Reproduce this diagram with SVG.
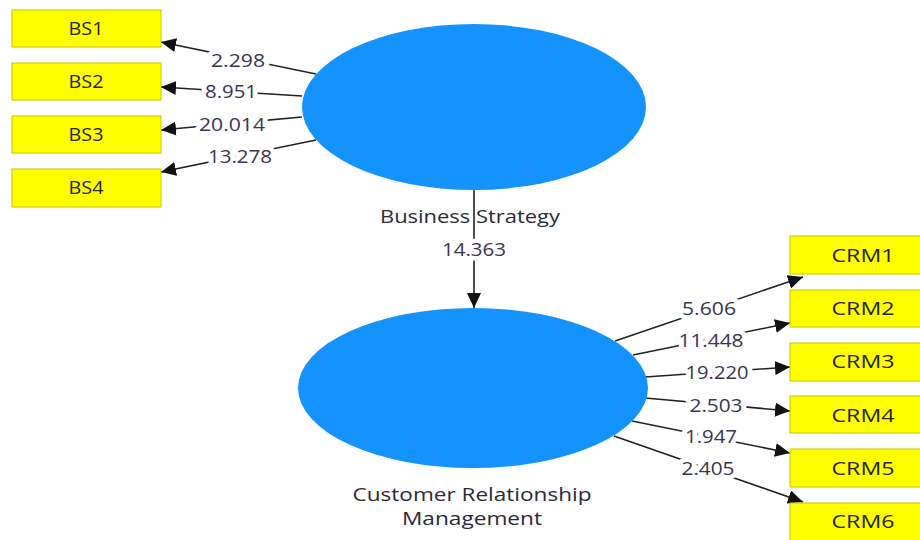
<svg xmlns="http://www.w3.org/2000/svg" width="920" height="540" viewBox="0 0 920 540">
<style>
.ind{fill:#ffff00;stroke:#c8c400;stroke-width:1}
.lv{fill:#1493fd}
.t{font-family:"Open Sans","Noto Sans",sans-serif;font-size:18.5px;fill:#262626;text-anchor:middle}
.n{font-family:"Open Sans","Noto Sans",sans-serif;font-size:18.5px;fill:#3a3550;text-anchor:middle;stroke:#fff;stroke-width:9px;paint-order:stroke;stroke-linejoin:round}
.lt{font-family:"Open Sans","Noto Sans",sans-serif;font-size:18px;fill:#2a2a3a;text-anchor:middle}
.c{stroke:#222;stroke-width:1.6;fill:none;marker-end:url(#ah)}
</style>
<defs>
<marker id="ah" markerUnits="userSpaceOnUse" markerWidth="16" markerHeight="14" refX="15" refY="7" orient="auto">
<path d="M0,0 L15,7 L0,14 Z" fill="#111"/>
</marker>
</defs>
<g id="connectors">
<line class="c" x1="316" y1="74" x2="161" y2="42"/>
<line class="c" x1="302" y1="96" x2="161" y2="87"/>
<line class="c" x1="302" y1="117" x2="161" y2="130"/>
<line class="c" x1="316" y1="140" x2="161" y2="172"/>
<line class="c" x1="474" y1="190" x2="474" y2="308"/>
<line class="c" x1="615" y1="341" x2="803" y2="277"/>
<line class="c" x1="633" y1="355" x2="790" y2="323"/>
<line class="c" x1="645" y1="377" x2="790" y2="367"/>
<line class="c" x1="645" y1="398" x2="790" y2="411"/>
<line class="c" x1="632" y1="421" x2="790" y2="453"/>
<line class="c" x1="614" y1="436" x2="803" y2="502"/>
<text class="n" x="238" y="67" textLength="54" lengthAdjust="spacingAndGlyphs">2.298</text>
<text class="n" x="231" y="98" textLength="52" lengthAdjust="spacingAndGlyphs">8.951</text>
<text class="n" x="232" y="131" textLength="66" lengthAdjust="spacingAndGlyphs">20.014</text>
<text class="n" x="240" y="163" textLength="64" lengthAdjust="spacingAndGlyphs">13.278</text>
<text class="n" x="474" y="256" textLength="64" lengthAdjust="spacingAndGlyphs">14.363</text>
<text class="n" x="709" y="315" textLength="54" lengthAdjust="spacingAndGlyphs">5.606</text>
<text class="n" x="711" y="347" textLength="65" lengthAdjust="spacingAndGlyphs">11.448</text>
<text class="n" x="717" y="379" textLength="63" lengthAdjust="spacingAndGlyphs">19.220</text>
<text class="n" x="716" y="412" textLength="53" lengthAdjust="spacingAndGlyphs">2.503</text>
<text class="n" x="711" y="443" textLength="52" lengthAdjust="spacingAndGlyphs">1.947</text>
<text class="n" x="708" y="475" textLength="53" lengthAdjust="spacingAndGlyphs">2.405</text>
</g>
<g id="BusinessStrategy">
<ellipse class="lv" cx="474" cy="107" rx="172" ry="83"/>
<text class="lt" x="470" y="223" textLength="180" lengthAdjust="spacingAndGlyphs">Business Strategy</text>
</g>
<g id="CRM">
<ellipse class="lv" cx="473" cy="388" rx="175" ry="80"/>
<text class="lt" x="472" y="501" textLength="239" lengthAdjust="spacingAndGlyphs">Customer Relationship</text>
<text class="lt" x="472" y="525" textLength="140" lengthAdjust="spacingAndGlyphs">Management</text>
</g>
<g id="BS1"><rect class="ind" x="12" y="10" width="149" height="37"/><text class="t" x="86" y="35" textLength="35" lengthAdjust="spacingAndGlyphs">BS1</text></g>
<g id="BS2"><rect class="ind" x="12" y="63" width="149" height="37"/><text class="t" x="86" y="88" textLength="35" lengthAdjust="spacingAndGlyphs">BS2</text></g>
<g id="BS3"><rect class="ind" x="12" y="116" width="149" height="37"/><text class="t" x="86" y="141" textLength="35" lengthAdjust="spacingAndGlyphs">BS3</text></g>
<g id="BS4"><rect class="ind" x="12" y="169" width="149" height="38"/><text class="t" x="86" y="194" textLength="35" lengthAdjust="spacingAndGlyphs">BS4</text></g>
<g id="CRM1"><rect class="ind" x="790" y="236" width="148" height="38"/><text class="t" x="863" y="262" textLength="63" lengthAdjust="spacingAndGlyphs">CRM1</text></g>
<g id="CRM2"><rect class="ind" x="790" y="290" width="148" height="37"/><text class="t" x="863" y="315" textLength="63" lengthAdjust="spacingAndGlyphs">CRM2</text></g>
<g id="CRM3"><rect class="ind" x="790" y="343" width="148" height="38"/><text class="t" x="863" y="368" textLength="63" lengthAdjust="spacingAndGlyphs">CRM3</text></g>
<g id="CRM4"><rect class="ind" x="790" y="396" width="148" height="37"/><text class="t" x="863" y="422" textLength="63" lengthAdjust="spacingAndGlyphs">CRM4</text></g>
<g id="CRM5"><rect class="ind" x="790" y="449" width="148" height="38"/><text class="t" x="863" y="475" textLength="63" lengthAdjust="spacingAndGlyphs">CRM5</text></g>
<g id="CRM6"><rect class="ind" x="790" y="503" width="148" height="38"/><text class="t" x="863" y="528" textLength="63" lengthAdjust="spacingAndGlyphs">CRM6</text></g>
</svg>
